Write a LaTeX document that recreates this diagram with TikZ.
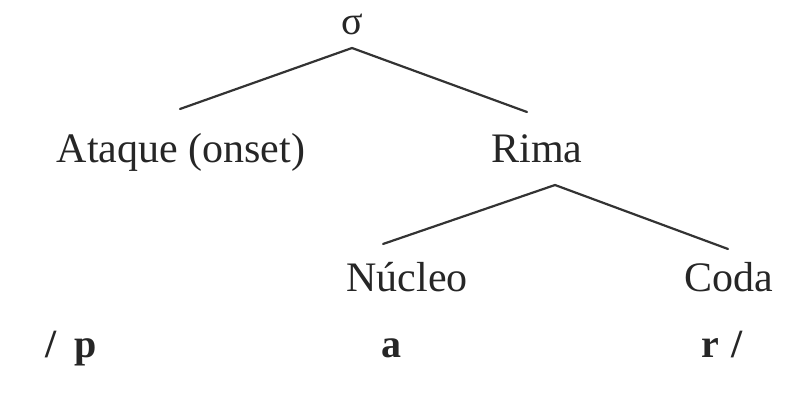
\documentclass[tikz,border=0pt]{standalone}
\usepackage{fontspec}
\setmainfont{Liberation Serif}
\begin{document}
\begin{tikzpicture}[x=1pt,y=-1pt,
  lbl/.style={anchor=base,inner sep=0pt,text=black!85,font=\fontsize{42}{50}\selectfont},
  seg/.style={anchor=base,inner sep=0pt,text=black!85,font=\fontsize{40}{48}\selectfont\bfseries},
  branch/.style={draw=black!80,line width=2.2pt,line cap=round}]
\useasboundingbox (0,0) rectangle (795,396);
\node[lbl,font=\fontsize{40}{44}\selectfont] (sigma) at (352,35) {σ};
\node[lbl] (ataque) at (181,162) {Ataque (onset)};
\node[lbl] (rima) at (537,162) {Rima};
\node[lbl] (nucleo) at (407,291) {Núcleo};
\node[lbl] (coda) at (729,291) {Coda};
\node[seg] (p) at (71,357) {/\hspace{0.45em}p};
\node[seg] (a) at (391,357) {a};
\node[seg] (r) at (722,357) {r\hspace{0.3em}/};
\coordinate (sigmaFoot) at (352,48);
\coordinate (ataqueTop) at (180,109);
\coordinate (rimaTop) at (527,112);
\coordinate (rimaFoot) at (555,185);
\coordinate (nucleoTop) at (383,244);
\coordinate (codaTop) at (728,249);
\draw[branch] (ataqueTop) -- (sigmaFoot) -- (rimaTop);
\draw[branch] (nucleoTop) -- (rimaFoot) -- (codaTop);
\end{tikzpicture}
\end{document}
